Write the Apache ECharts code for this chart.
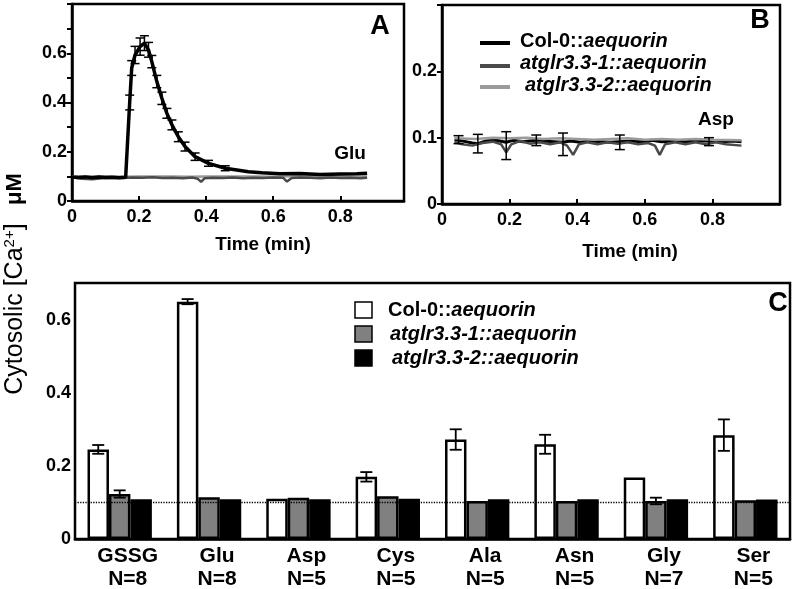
<!DOCTYPE html>
<html>
<head>
<meta charset="utf-8">
<script src="https://cdn.jsdelivr.net/npm/echarts@6/dist/echarts.min.js"></script>
<style>
html,body{margin:0;padding:0;background:#fff;}
#main{width:796px;height:589px;}
</style>
</head>
<body>
<div id="main"></div>
<script>
// ---------- DATA ----------
const seriesNames = ['Col-0::aequorin', 'atglr3.3-1::aequorin', 'atglr3.3-2::aequorin'];

// Panel A (Glu) : [time (min), cytosolic Ca2+ (uM)]
const aCol0 = [[0,0.097],[0.02,0.095],[0.04,0.098],[0.06,0.094],[0.08,0.097],[0.10,0.095],[0.12,0.096],[0.14,0.094],[0.16,0.096],[0.165,0.099],[0.172,0.40],[0.178,0.54],[0.188,0.593],[0.203,0.627],[0.216,0.641],[0.228,0.614],[0.238,0.566],[0.253,0.485],[0.268,0.417],[0.283,0.356],[0.298,0.309],[0.317,0.261],[0.337,0.221],[0.367,0.18],[0.407,0.153],[0.457,0.133],[0.526,0.119],[0.566,0.115],[0.62,0.111],[0.68,0.112],[0.74,0.108],[0.80,0.110],[0.85,0.111],[0.88,0.113]];
const aCol0Err = [[0.172,0.40,0.03],[0.178,0.54,0.03],[0.188,0.593,0.035],[0.203,0.627,0.035],[0.216,0.641,0.03],[0.228,0.614,0.03],[0.238,0.566,0.025],[0.253,0.485,0.025],[0.268,0.417,0.025],[0.283,0.356,0.02],[0.298,0.309,0.02],[0.317,0.261,0.02],[0.337,0.221,0.018],[0.367,0.18,0.015],[0.407,0.153,0.012],[0.457,0.133,0.01]];
const a31 = [[0,0.096],[0.03,0.09],[0.06,0.088],[0.09,0.092],[0.12,0.094],[0.15,0.093],[0.18,0.095],[0.21,0.094],[0.24,0.096],[0.27,0.093],[0.30,0.094],[0.33,0.092],[0.36,0.095],[0.375,0.09],[0.385,0.078],[0.395,0.092],[0.42,0.094],[0.45,0.093],[0.48,0.095],[0.51,0.092],[0.54,0.094],[0.57,0.093],[0.60,0.095],[0.63,0.094],[0.641,0.079],[0.655,0.093],[0.68,0.095],[0.71,0.094],[0.74,0.092],[0.77,0.095],[0.80,0.093],[0.83,0.094],[0.86,0.092],[0.88,0.094]];
const a32 = [[0,0.1],[0.05,0.099],[0.1,0.1],[0.15,0.098],[0.2,0.1],[0.25,0.099],[0.3,0.1],[0.35,0.098],[0.4,0.099],[0.45,0.1],[0.5,0.099],[0.55,0.1],[0.6,0.098],[0.65,0.1],[0.7,0.101],[0.75,0.099],[0.8,0.1],[0.85,0.098],[0.88,0.099]];

// Panel B (Asp)
const bCol0 = [[0.037,0.097],[0.05,0.096],[0.07,0.094],[0.09,0.092],[0.106,0.091],[0.13,0.095],[0.16,0.096],[0.19,0.093],[0.21,0.096],[0.24,0.094],[0.279,0.096],[0.30,0.095],[0.33,0.094],[0.358,0.093],[0.38,0.095],[0.41,0.093],[0.44,0.095],[0.47,0.094],[0.50,0.093],[0.526,0.094],[0.56,0.095],[0.59,0.094],[0.62,0.096],[0.65,0.094],[0.69,0.095],[0.72,0.094],[0.75,0.095],[0.79,0.095],[0.83,0.094],[0.86,0.095],[0.886,0.094]];
const bCol0Err = [[0.049,0.097,0.006],[0.106,0.091,0.014],[0.19,0.088,0.021],[0.279,0.096,0.008],[0.358,0.09,0.017],[0.526,0.093,0.011],[0.79,0.094,0.006]];
const b31 = [[0.037,0.093],[0.06,0.09],[0.09,0.088],[0.12,0.092],[0.15,0.094],[0.175,0.09],[0.19,0.078],[0.205,0.09],[0.23,0.095],[0.26,0.091],[0.29,0.093],[0.32,0.09],[0.35,0.093],[0.37,0.088],[0.388,0.074],[0.405,0.09],[0.43,0.093],[0.46,0.09],[0.49,0.093],[0.52,0.091],[0.55,0.093],[0.58,0.09],[0.61,0.092],[0.63,0.088],[0.644,0.074],[0.66,0.09],[0.69,0.093],[0.72,0.09],[0.75,0.093],[0.78,0.09],[0.81,0.093],[0.84,0.09],[0.886,0.088]];
const b32 = [[0.037,0.099],[0.1,0.098],[0.15,0.1],[0.2,0.099],[0.25,0.1],[0.3,0.098],[0.35,0.099],[0.4,0.098],[0.45,0.097],[0.5,0.098],[0.55,0.099],[0.6,0.097],[0.65,0.098],[0.7,0.097],[0.75,0.098],[0.8,0.097],[0.886,0.096]];

// Panel C (peak values)
const cCategories = ['GSSG','Glu','Asp','Cys','Ala','Asn','Gly','Ser'];
const cNLabels = ['N=8','N=8','N=5','N=5','N=5','N=5','N=7','N=5'];
const cCol0 = [0.245, 0.649, 0.110, 0.170, 0.272, 0.259, 0.168, 0.284];
const cCol0Err = [0.012, 0.007, 0, 0.013, 0.028, 0.026, 0, 0.043];
const c31 = [0.123, 0.114, 0.113, 0.117, 0.104, 0.104, 0.104, 0.106];
const c31Err = [0.010, 0, 0, 0, 0, 0, 0.009, 0];
const c32 = [0.109, 0.109, 0.109, 0.110, 0.109, 0.109, 0.109, 0.108];
const cBaseline = 0.105;

// ---------- STYLE ----------
const FONT = "'Liberation Sans', Arial, sans-serif";
const lineColors = ['#000000', '#4a4a4a', '#9a9a9a'];
const barColors = ['#ffffff', '#808080', '#000000'];
const BAR_GAP_RATIO = 0.28;

const tickLabel = {color:'#000', fontFamily:FONT, fontWeight:'bold', fontSize:18};

function lineErrRender(capW){
  return function(params, api){
    const t = api.value(0), m = api.value(1), e = api.value(2);
    const p1 = api.coord([t, m - e]);
    const p2 = api.coord([t, m + e]);
    const st = {stroke:'#000', lineWidth:1.5};
    return {type:'group', children:[
      {type:'line', shape:{x1:p1[0], y1:p1[1], x2:p2[0], y2:p2[1]}, style:st},
      {type:'line', shape:{x1:p1[0]-capW/2, y1:p1[1], x2:p1[0]+capW/2, y2:p1[1]}, style:st},
      {type:'line', shape:{x1:p2[0]-capW/2, y1:p2[1], x2:p2[0]+capW/2, y2:p2[1]}, style:st}
    ]};
  };
}

function barErrRender(params, api){
  const ci = api.value(0), m = api.value(1), e = api.value(2), k = api.value(3);
  const bw = api.size([1, 0])[0];
  const barW = bw * (1 - BAR_GAP_RATIO) / 3;
  const cx = api.coord([ci, 0])[0] + (k - 1) * barW;
  const yLo = api.coord([ci, m - e])[1];
  const yHi = api.coord([ci, m + e])[1];
  const cap = 12;
  const st = {stroke:'#000', lineWidth:1.8};
  return {type:'group', children:[
    {type:'line', shape:{x1:cx, y1:yLo, x2:cx, y2:yHi}, style:st},
    {type:'line', shape:{x1:cx-cap/2, y1:yLo, x2:cx+cap/2, y2:yLo}, style:st},
    {type:'line', shape:{x1:cx-cap/2, y1:yHi, x2:cx+cap/2, y2:yHi}, style:st}
  ]};
}

const cErrData = [];
cCol0.forEach((v, i) => { if (cCol0Err[i] > 0) cErrData.push([i, v, cCol0Err[i], 0]); });
c31.forEach((v, i) => { if (c31Err[i] > 0) cErrData.push([i, v, c31Err[i], 1]); });

function near(v, step){ return Math.abs(v/step - Math.round(v/step)) < 1e-6; }
function fmt1(v){ return String(+v.toFixed(1)); }

const chart = echarts.init(document.getElementById('main'), null, {renderer:'canvas'});

const catLabelStyle = {fontSize:21, fontFamily:FONT, fontWeight:'bold', color:'#000', lineHeight:23};

const option = {
  backgroundColor:'#fff',
  animation:false,
  grid:[
    {left:72, top:4, width:332, height:197, show:true, borderColor:'#000', borderWidth:2.5, outerBoundsMode:'none', containLabel:false},
    {left:442, top:5, width:338, height:199, show:true, borderColor:'#000', borderWidth:2.5, outerBoundsMode:'none', containLabel:false},
    {left:75, top:283, width:715, height:256, show:true, borderColor:'#000', borderWidth:2.5, outerBoundsMode:'none', containLabel:false}
  ],
  xAxis:[
    {gridIndex:0, type:'value', min:0, max:0.99, interval:0.2,
     axisLine:{lineStyle:{color:'#000', width:2.5}},
     axisTick:{inside:true, length:5, lineStyle:{color:'#000', width:2}},
     axisLabel:Object.assign({margin:7, formatter:v => v > 0.9 ? '' : fmt1(v)}, tickLabel),
     splitLine:{show:false},
     name:'Time (min)', nameLocation:'middle', nameGap:34,
     nameTextStyle:{color:'#000', fontFamily:FONT, fontWeight:'bold', fontSize:19, padding:[0,0,0,50]}},
    {gridIndex:1, type:'value', min:0, max:1, interval:0.2,
     axisLine:{lineStyle:{color:'#000', width:2.5}},
     axisTick:{inside:true, length:5, lineStyle:{color:'#000', width:2}},
     axisLabel:Object.assign({margin:7, formatter:v => v > 0.9 ? '' : fmt1(v)}, tickLabel),
     splitLine:{show:false},
     name:'Time (min)', nameLocation:'middle', nameGap:38,
     nameTextStyle:{color:'#000', fontFamily:FONT, fontWeight:'bold', fontSize:19, padding:[0,0,0,38]}},
    {gridIndex:2, type:'category', data:cCategories,
     axisLine:{lineStyle:{color:'#000', width:2.5}},
     axisTick:{inside:true, length:4, lineStyle:{color:'#000', width:2}},
     axisLabel:{color:'#000', fontFamily:FONT, fontWeight:'bold', fontSize:21, lineHeight:23, margin:6, interval:0,
       formatter:(v, i) => '{sp| }{t|' + v + '}\n{sp| }{t|' + cNLabels[i] + '}',
       rich:{sp:{width:16, fontSize:21, lineHeight:23}, t:catLabelStyle}},
     splitLine:{show:false}}
  ],
  yAxis:[
    {gridIndex:0, type:'value', min:0, max:0.8, interval:0.1,
     axisLine:{lineStyle:{color:'#000', width:2.5}},
     axisTick:{length:5, lineStyle:{color:'#000', width:2}},
     axisLabel:Object.assign({margin:5, formatter:v => (near(v,0.2) && v < 0.79) ? fmt1(v) : ''}, tickLabel),
     splitLine:{show:false}},
    {gridIndex:1, type:'value', min:0, max:0.3, interval:0.1,
     axisLine:{lineStyle:{color:'#000', width:2.5}},
     axisTick:{length:5, lineStyle:{color:'#000', width:2}},
     axisLabel:Object.assign({margin:5, formatter:v => v < 0.29 ? fmt1(v) : ''}, tickLabel),
     splitLine:{show:false}},
    {gridIndex:2, type:'value', min:0, max:0.7, interval:0.1,
     axisLine:{lineStyle:{color:'#000', width:2.5}},
     axisTick:{length:5, lineStyle:{color:'#000', width:2}},
     axisLabel:Object.assign({margin:4, formatter:v => near(v,0.2) ? fmt1(v) : ''}, tickLabel),
     splitLine:{show:false}}
  ],
  series:[
    // Panel A
    {name:seriesNames[2], type:'line', xAxisIndex:0, yAxisIndex:0, data:a32, symbol:'none',
     lineStyle:{color:lineColors[2], width:2.5}, itemStyle:{color:lineColors[2]}},
    {name:seriesNames[1], type:'line', xAxisIndex:0, yAxisIndex:0, data:a31, symbol:'none',
     lineStyle:{color:lineColors[1], width:2.5}, itemStyle:{color:lineColors[1]}},
    {name:seriesNames[0], type:'line', xAxisIndex:0, yAxisIndex:0, data:aCol0, symbol:'none',
     lineStyle:{color:lineColors[0], width:3.5}, itemStyle:{color:lineColors[0]}},
    {name:'Col-0 error (Glu)', type:'custom', xAxisIndex:0, yAxisIndex:0, data:aCol0Err,
     renderItem:lineErrRender(9), encode:{x:0, y:1}, z:5},
    // Panel B
    {name:seriesNames[0], type:'line', xAxisIndex:1, yAxisIndex:1, data:bCol0, symbol:'none',
     lineStyle:{color:lineColors[0], width:3}, itemStyle:{color:lineColors[0]}},
    {name:seriesNames[1], type:'line', xAxisIndex:1, yAxisIndex:1, data:b31, symbol:'none',
     lineStyle:{color:lineColors[1], width:2.5}, itemStyle:{color:lineColors[1]}},
    {name:seriesNames[2], type:'line', xAxisIndex:1, yAxisIndex:1, data:b32, symbol:'none',
     lineStyle:{color:lineColors[2], width:2.5}, itemStyle:{color:lineColors[2]}},
    {name:'Col-0 error (Asp)', type:'custom', xAxisIndex:1, yAxisIndex:1, data:bCol0Err,
     renderItem:lineErrRender(10), encode:{x:0, y:1}, z:5},
    // Panel C
    {name:seriesNames[0], type:'bar', xAxisIndex:2, yAxisIndex:2, data:cCol0,
     barGap:'0%', barCategoryGap:(BAR_GAP_RATIO*100)+'%',
     itemStyle:{color:barColors[0], borderColor:'#000', borderWidth:2.5},
     markLine:{silent:true, symbol:'none', label:{show:false},
       lineStyle:{color:'#000', type:'dotted', width:1.3},
       data:[{yAxis:cBaseline}]}},
    {name:seriesNames[1], type:'bar', xAxisIndex:2, yAxisIndex:2, data:c31,
     barGap:'0%', barCategoryGap:(BAR_GAP_RATIO*100)+'%',
     itemStyle:{color:barColors[1], borderColor:'#000', borderWidth:2.5}},
    {name:seriesNames[2], type:'bar', xAxisIndex:2, yAxisIndex:2, data:c32,
     barGap:'0%', barCategoryGap:(BAR_GAP_RATIO*100)+'%',
     itemStyle:{color:barColors[2], borderColor:'#000', borderWidth:2.5}},
    {name:'error (peak)', type:'custom', xAxisIndex:2, yAxisIndex:2, data:cErrData,
     renderItem:barErrRender, encode:{x:0, y:1}, z:5}
  ],
  graphic:[
    // panel letters and treatment labels
    {type:'text', x:380, y:27, style:{text:'A', fill:'#000', font:"bold 27px "+FONT, textAlign:'center', textVerticalAlign:'middle'}},
    {type:'text', x:760, y:21, style:{text:'B', fill:'#000', font:"bold 27px "+FONT, textAlign:'center', textVerticalAlign:'middle'}},
    {type:'text', x:778, y:304, style:{text:'C', fill:'#000', font:"bold 27px "+FONT, textAlign:'center', textVerticalAlign:'middle'}},
    {type:'text', x:350, y:154, style:{text:'Glu', fill:'#000', font:"bold 19px "+FONT, textAlign:'center', textVerticalAlign:'middle'}},
    {type:'text', x:716, y:120, style:{text:'Asp', fill:'#000', font:"bold 19px "+FONT, textAlign:'center', textVerticalAlign:'middle'}},
    // y axis title
    {type:'text', x:15, y:284, rotation:Math.PI/2,
     style:{text:'{n|Cytosolic [Ca}{s|2+}{n|]}{b|   μM}', textAlign:'center', textVerticalAlign:'middle',
       rich:{n:{fontSize:25, fontFamily:FONT, fill:'#000'}, s:{fontSize:15, fontFamily:FONT, fill:'#000', padding:[0,0,11,0]},
             b:{fontSize:22, fontFamily:FONT, fontWeight:'bold', fill:'#000'}}}},
    // Legend B (lines)
    {type:'line', shape:{x1:480, y1:43, x2:510, y2:43}, style:{stroke:lineColors[0], lineWidth:4}},
    {type:'line', shape:{x1:480, y1:66, x2:510, y2:66}, style:{stroke:lineColors[1], lineWidth:4}},
    {type:'line', shape:{x1:480, y1:87, x2:510, y2:87}, style:{stroke:lineColors[2], lineWidth:4}},
    {type:'text', x:520, y:41, style:{text:'{n|Col-0::}{i|aequorin}', textVerticalAlign:'middle',
      rich:{n:{fontSize:20, fontWeight:'bold', fontFamily:FONT, fill:'#000'}, i:{fontSize:20, fontWeight:'bold', fontStyle:'italic', fontFamily:FONT, fill:'#000'}}}},
    {type:'text', x:520, y:63, style:{text:'atglr3.3-1::aequorin', textVerticalAlign:'middle', fill:'#000', font:"italic bold 20px "+FONT}},
    {type:'text', x:525, y:85, style:{text:'atglr3.3-2::aequorin', textVerticalAlign:'middle', fill:'#000', font:"italic bold 20px "+FONT}},
    // Legend C (bars)
    {type:'rect', shape:{x:355, y:302, width:17, height:16}, style:{fill:barColors[0], stroke:'#000', lineWidth:1.5}},
    {type:'rect', shape:{x:355, y:326, width:17, height:16}, style:{fill:barColors[1], stroke:'#000', lineWidth:1.5}},
    {type:'rect', shape:{x:355, y:350, width:17, height:16}, style:{fill:barColors[2], stroke:'#000', lineWidth:1.5}},
    {type:'text', x:388, y:310, style:{text:'{n|Col-0::}{i|aequorin}', textVerticalAlign:'middle',
      rich:{n:{fontSize:20, fontWeight:'bold', fontFamily:FONT, fill:'#000'}, i:{fontSize:20, fontWeight:'bold', fontStyle:'italic', fontFamily:FONT, fill:'#000'}}}},
    {type:'text', x:390, y:334, style:{text:'atglr3.3-1::aequorin', textVerticalAlign:'middle', fill:'#000', font:"italic bold 20px "+FONT}},
    {type:'text', x:392, y:358, style:{text:'atglr3.3-2::aequorin', textVerticalAlign:'middle', fill:'#000', font:"italic bold 20px "+FONT}}
  ]
};
chart.setOption(option);
</script>
</body>
</html>
